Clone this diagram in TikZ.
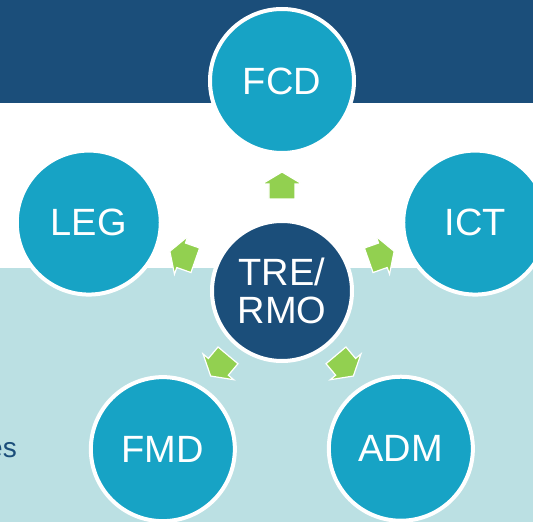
\documentclass[tikz,border=0pt]{standalone}
\usepackage{fontspec}
\setmainfont{Liberation Sans}
\usetikzlibrary{calc, %for relative coords
                positioning}
\definecolor{bandblue}{HTML}{1B4E7A}
\definecolor{unitblue}{HTML}{17A3C5}
\definecolor{paleblue}{HTML}{BBE0E3}
\definecolor{arrowgreen}{HTML}{92D050}

\begin{document}
\begin{tikzpicture}[x=1pt, y=1pt,
                    Unit/.style={draw=white, line width=4pt, circle, fill=unitblue, minimum size=144pt, inner sep=0pt, text=white, align=center, font=\fontsize{38}{38}\selectfont},
                    Hub/.style={Unit, fill=bandblue, minimum size=140pt},
                    homeplate/.style={fill=arrowgreen, draw=white, line width=1.2pt, line join=miter}
                    ]

    % BACKGROUND %
    \useasboundingbox (-282,-231) rectangle (251,291);
    \fill[bandblue] (-282,188) rectangle (251,291);
    \fill[paleblue] (-282,-231) rectangle (251,23);

    \node[font=\fontsize{28}{28}\selectfont, text=bandblue, inner sep=0pt, anchor=base east] (cut) at (-265,-166) {es};

    % UNITS %
    \node[Hub] (hub) at (0,0) {TRE/\\RMO};
    \node[Unit] (fcd) at (90:210) {FCD};
    \node[Unit] (leg) at (160.5:205) {LEG};
    \node[Unit] (ict) at (19.5:205) {ICT};
    \node[Unit] (fmd) at (233:198) {FMD};
    \node[Unit] (adm) at (307:197.5) {ADM};

    % ARROWS %
    \foreach \a/\d in {90/92,160.5/92,19.5/92,230/84,310/84}
    \draw[homeplate, rotate=\a] (\d,-13) -- (\d+15,-13) -- (\d+15,-20) -- (\d+27,0) -- (\d+15,20) -- (\d+15,13) -- (\d,13) -- cycle;

\end{tikzpicture}
\end{document}
